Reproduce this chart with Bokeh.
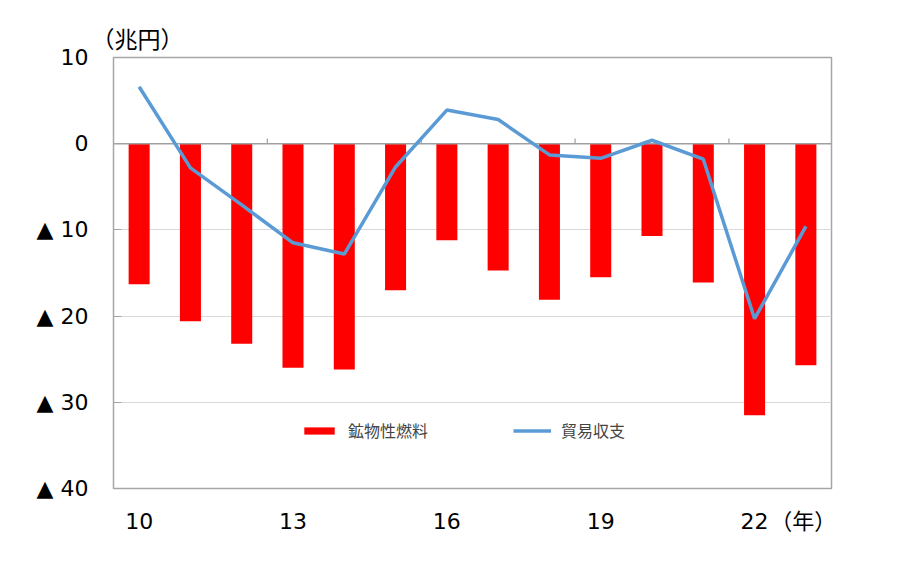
from bokeh.plotting import figure
from bokeh.models import (Range1d, FixedTicker, Legend, LegendItem, ColumnDataSource)
from bokeh.embed import file_html
from bokeh.resources import INLINE

years = ["10", "11", "12", "13", "14", "15", "16", "17", "18", "19", "20", "21", "22", "23"]
fuel = [-16.3, -20.6, -23.2, -26.0, -26.2, -17.0, -11.2, -14.7, -18.1, -15.5, -10.7, -16.1, -31.5, -25.7]
balance = [6.6, -2.8, -7.1, -11.5, -12.8, -2.7, 3.9, 2.8, -1.3, -1.7, 0.4, -1.8, -20.3, -9.6]
y_ticks = [-40, -30, -20, -10, 0, 10]
y_tick_labels = ["▲ 40", "▲ 30", "▲ 20", "▲ 10", "0", "10"]
x_tick_every = 3
fuel_name = "鉱物性燃料"
balance_name = "貿易収支"
unit_y = "（兆円）"
unit_x = "（年）"
unit_x_pos = 12.95

FONT = "DejaVu Sans, Noto Sans CJK JP"
JFONT = "Noto Sans CJK JP"

idx = list(range(len(years)))
src = ColumnDataSource(dict(x=idx, fuel=fuel, bal=balance))

p = figure(width=884, height=550, output_backend="svg", toolbar_location=None,
           x_range=Range1d(-0.5, len(years) - 0.5), y_range=Range1d(-40, 10),
           min_border_left=113, min_border_right=53, min_border_top=57, min_border_bottom=62)
p.background_fill_color = "white"
p.border_fill_color = "white"
p.outline_line_color = "#a6a6a6"
p.outline_line_width = 1.5

# unit label for y as title
p.title.text = unit_y
p.title.align = "left"
p.title.offset = -22
p.title.standoff = 5
p.title.text_font = JFONT
p.title.text_font_size = "23px"
p.title.text_font_style = "normal"
p.title.text_color = "black"

# grid
p.xgrid.visible = False
p.ygrid.ticker = FixedTicker(ticks=[t for t in y_ticks if t not in (0, 10, -40)])
p.ygrid.grid_line_color = "#d9d9d9"
p.ygrid.grid_line_width = 1

bars = p.vbar(x="x", top=0, bottom="fuel", width=0.41, source=src,
              fill_color="#ff0000", line_color=None)

# zero line with small ticks every 3 categories
p.segment(x0=[-0.5], x1=[len(years) - 0.5], y0=[0], y1=[0], line_color="#a0a0a0", line_width=1.5)
bx = [i - 0.5 for i in range(x_tick_every, len(years), x_tick_every)]
p.segment(x0=bx, x1=bx, y0=[0] * len(bx), y1=[0.6] * len(bx), line_color="#a0a0a0", line_width=1.2)

line = p.line(x="x", y="bal", source=src, line_color="#5b9bd5", line_width=3.5)

# axes
p.yaxis.ticker = FixedTicker(ticks=y_ticks)
p.yaxis.major_label_overrides = {t: l for t, l in zip(y_ticks, y_tick_labels)}
p.yaxis.major_label_text_font = FONT
p.yaxis.major_label_text_font_size = "22px"
p.yaxis.major_label_text_color = "black"
p.yaxis.axis_line_color = "#a6a6a6"
p.yaxis.major_tick_in = 8
p.yaxis.major_tick_out = 0
p.yaxis.major_tick_line_color = "#a6a6a6"
p.yaxis.minor_tick_line_color = None
p.yaxis.major_label_standoff = 25

xt = idx[::x_tick_every]
labels_x = {i: years[i] for i in xt}
labels_x[unit_x_pos] = unit_x
p.xaxis.ticker = FixedTicker(ticks=xt + [unit_x_pos])
p.xaxis.major_label_overrides = labels_x
p.xaxis.major_label_text_font = FONT
p.xaxis.major_label_text_font_size = "22px"
p.xaxis.major_label_text_color = "black"
p.xaxis.axis_line_color = None
p.xaxis.major_tick_line_color = None
p.xaxis.minor_tick_line_color = None
p.xaxis.major_tick_in = 0
p.xaxis.major_tick_out = 0
p.xaxis.major_label_standoff = 20

legend = Legend(items=[LegendItem(label=fuel_name, renderers=[bars]),
                       LegendItem(label=balance_name, renderers=[line])],
                orientation="horizontal", location=(187, 46),
                glyph_width=38, glyph_height=9, label_standoff=10, spacing=85,
                padding=0, margin=0, border_line_color=None, background_fill_alpha=0,
                label_text_font=JFONT, label_text_font_size="16px")
p.add_layout(legend, "center")

open("out.html", "w").write(file_html(p, INLINE))
